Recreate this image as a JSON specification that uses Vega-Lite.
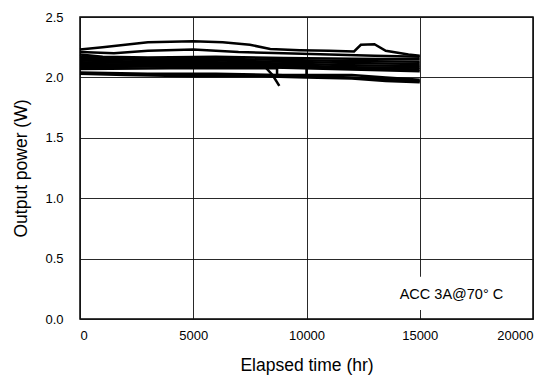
{
  "$schema": "https://vega.github.io/schema/vega-lite/v6.json",
  "width": 453,
  "height": 302,
  "autosize": {"type": "none"},
  "padding": {"left": 80, "top": 17, "right": 23, "bottom": 60},
  "background": "white",
  "config": {
    "view": {"stroke": "black", "strokeWidth": 1.5},
    "font": "Liberation Sans",
    "axis": {
      "grid": true,
      "gridColor": "#111",
      "gridWidth": 0.9,
      "gridOpacity": 1,
      "domain": false,
      "ticks": false,
      "labelFont": "Liberation Sans",
      "labelFontSize": 13,
      "labelColor": "black",
      "titleFont": "Liberation Sans",
      "titleFontSize": 17.5,
      "titleFontWeight": "normal",
      "titleColor": "black"
    }
  },
  "data": {"values": [
    {"s": 1, "i": 1, "t": 0, "p": 2.23}, {"s": 1, "i": 2, "t": 1000, "p": 2.25}, {"s": 1, "i": 3, "t": 2000, "p": 2.27}, {"s": 1, "i": 4, "t": 3000, "p": 2.29}, {"s": 1, "i": 5, "t": 5000, "p": 2.3}, {"s": 1, "i": 6, "t": 6300, "p": 2.29}, {"s": 1, "i": 7, "t": 7500, "p": 2.27}, {"s": 1, "i": 8, "t": 8400, "p": 2.235}, {"s": 1, "i": 9, "t": 9700, "p": 2.225}, {"s": 1, "i": 10, "t": 11000, "p": 2.22}, {"s": 1, "i": 11, "t": 12100, "p": 2.215}, {"s": 1, "i": 12, "t": 12400, "p": 2.27}, {"s": 1, "i": 13, "t": 13000, "p": 2.275}, {"s": 1, "i": 14, "t": 13500, "p": 2.22}, {"s": 1, "i": 15, "t": 14500, "p": 2.19}, {"s": 1, "i": 16, "t": 15000, "p": 2.18},
    {"s": 2, "i": 1, "t": 0, "p": 2.21}, {"s": 2, "i": 2, "t": 1500, "p": 2.2}, {"s": 2, "i": 3, "t": 3000, "p": 2.22}, {"s": 2, "i": 4, "t": 5000, "p": 2.23}, {"s": 2, "i": 5, "t": 7000, "p": 2.21}, {"s": 2, "i": 6, "t": 9000, "p": 2.2}, {"s": 2, "i": 7, "t": 11000, "p": 2.19}, {"s": 2, "i": 8, "t": 13000, "p": 2.18}, {"s": 2, "i": 9, "t": 15000, "p": 2.17},
    {"s": 3, "i": 1, "t": 0, "p": 2.19}, {"s": 3, "i": 2, "t": 1000, "p": 2.17}, {"s": 3, "i": 3, "t": 3000, "p": 2.165}, {"s": 3, "i": 4, "t": 6000, "p": 2.17}, {"s": 3, "i": 5, "t": 9000, "p": 2.16}, {"s": 3, "i": 6, "t": 12000, "p": 2.155}, {"s": 3, "i": 7, "t": 15000, "p": 2.15},
    {"s": 4, "i": 1, "t": 0, "p": 2.17}, {"s": 4, "i": 2, "t": 3000, "p": 2.155}, {"s": 4, "i": 3, "t": 6000, "p": 2.155}, {"s": 4, "i": 4, "t": 9000, "p": 2.145}, {"s": 4, "i": 5, "t": 12000, "p": 2.135}, {"s": 4, "i": 6, "t": 15000, "p": 2.13},
    {"s": 5, "i": 1, "t": 0, "p": 2.155}, {"s": 5, "i": 2, "t": 3000, "p": 2.145}, {"s": 5, "i": 3, "t": 6000, "p": 2.14}, {"s": 5, "i": 4, "t": 9000, "p": 2.13}, {"s": 5, "i": 5, "t": 12000, "p": 2.12}, {"s": 5, "i": 6, "t": 15000, "p": 2.11},
    {"s": 6, "i": 1, "t": 0, "p": 2.14}, {"s": 6, "i": 2, "t": 3000, "p": 2.13}, {"s": 6, "i": 3, "t": 6000, "p": 2.125}, {"s": 6, "i": 4, "t": 9000, "p": 2.115}, {"s": 6, "i": 5, "t": 12000, "p": 2.1}, {"s": 6, "i": 6, "t": 15000, "p": 2.095},
    {"s": 7, "i": 1, "t": 0, "p": 2.125}, {"s": 7, "i": 2, "t": 3000, "p": 2.12}, {"s": 7, "i": 3, "t": 6000, "p": 2.11}, {"s": 7, "i": 4, "t": 9000, "p": 2.1}, {"s": 7, "i": 5, "t": 12000, "p": 2.085}, {"s": 7, "i": 6, "t": 15000, "p": 2.08},
    {"s": 13, "i": 1, "t": 0, "p": 2.11}, {"s": 13, "i": 2, "t": 3000, "p": 2.105}, {"s": 13, "i": 3, "t": 6000, "p": 2.1}, {"s": 13, "i": 4, "t": 9000, "p": 2.09}, {"s": 13, "i": 5, "t": 12000, "p": 2.075}, {"s": 13, "i": 6, "t": 15000, "p": 2.065},
    {"s": 14, "i": 1, "t": 0, "p": 2.095}, {"s": 14, "i": 2, "t": 3000, "p": 2.095}, {"s": 14, "i": 3, "t": 6000, "p": 2.09}, {"s": 14, "i": 4, "t": 9000, "p": 2.08}, {"s": 14, "i": 5, "t": 12000, "p": 2.065}, {"s": 14, "i": 6, "t": 15000, "p": 2.05},
    {"s": 8, "i": 1, "t": 0, "p": 2.085}, {"s": 8, "i": 2, "t": 3000, "p": 2.09}, {"s": 8, "i": 3, "t": 6000, "p": 2.085}, {"s": 8, "i": 4, "t": 8200, "p": 2.08}, {"s": 8, "i": 5, "t": 8500, "p": 2.02}, {"s": 8, "i": 6, "t": 8800, "p": 1.93},
    {"s": 9, "i": 1, "t": 0, "p": 2.07}, {"s": 9, "i": 2, "t": 4000, "p": 2.075}, {"s": 9, "i": 3, "t": 8700, "p": 2.075}, {"s": 9, "i": 4, "t": 8700, "p": 2.02}, {"s": 9, "i": 5, "t": 10000, "p": 2.02},
    {"s": 10, "i": 1, "t": 0, "p": 2.1}, {"s": 10, "i": 2, "t": 5000, "p": 2.11}, {"s": 10, "i": 3, "t": 10000, "p": 2.1}, {"s": 10, "i": 4, "t": 10000, "p": 2.02}, {"s": 10, "i": 5, "t": 12000, "p": 2.02}, {"s": 10, "i": 6, "t": 13500, "p": 2.0}, {"s": 10, "i": 7, "t": 15000, "p": 1.98},
    {"s": 11, "i": 1, "t": 0, "p": 2.04}, {"s": 11, "i": 2, "t": 3000, "p": 2.03}, {"s": 11, "i": 3, "t": 6000, "p": 2.03}, {"s": 11, "i": 4, "t": 8700, "p": 2.02}, {"s": 11, "i": 5, "t": 10000, "p": 2.01}, {"s": 11, "i": 6, "t": 12000, "p": 2.0}, {"s": 11, "i": 7, "t": 14000, "p": 1.98}, {"s": 11, "i": 8, "t": 15000, "p": 1.97},
    {"s": 12, "i": 1, "t": 0, "p": 2.03}, {"s": 12, "i": 2, "t": 2000, "p": 2.02}, {"s": 12, "i": 3, "t": 5000, "p": 2.01}, {"s": 12, "i": 4, "t": 8000, "p": 2.01}, {"s": 12, "i": 5, "t": 10000, "p": 2.0}, {"s": 12, "i": 6, "t": 12000, "p": 1.99}, {"s": 12, "i": 7, "t": 13500, "p": 1.97}, {"s": 12, "i": 8, "t": 15000, "p": 1.96}
  ]},
  "layer": [
    {
      "data": {"values": [{}]},
      "mark": {"type": "rect", "color": "white"},
      "encoding": {
        "x": {"datum": 14000, "type": "quantitative", "scale": {"domain": [0, 20000], "nice": false}},
        "x2": {"datum": 19800},
        "y": {"datum": 0.075, "type": "quantitative", "scale": {"domain": [0, 2.5], "nice": false}},
        "y2": {"datum": 0.35}
      }
    },
    {
      "mark": {"type": "line", "color": "black", "strokeWidth": 2.5},
      "encoding": {
        "x": {"field": "t", "type": "quantitative", "scale": {"domain": [0, 20000], "nice": false},
              "axis": {"values": [0, 5000, 10000, 15000, 20000], "format": "d", "labelPadding": 10, "title": "Elapsed time (hr)", "titlePadding": 14}},
        "y": {"field": "p", "type": "quantitative", "scale": {"domain": [0, 2.5], "nice": false},
              "axis": {"values": [0, 0.5, 1, 1.5, 2, 2.5], "format": ".1f", "labelPadding": 17, "title": "Output power (W)", "titlePadding": 14}},
        "detail": {"field": "s"},
        "order": {"field": "i"}
      }
    },
    {
      "data": {"values": [{}]},
      "mark": {"type": "text", "font": "Liberation Sans", "fontSize": 14.5, "color": "black", "align": "center", "baseline": "middle"},
      "encoding": {
        "x": {"datum": 16400, "type": "quantitative"},
        "y": {"datum": 0.2, "type": "quantitative"},
        "text": {"value": "ACC 3A@70° C"}
      }
    }
  ]
}
